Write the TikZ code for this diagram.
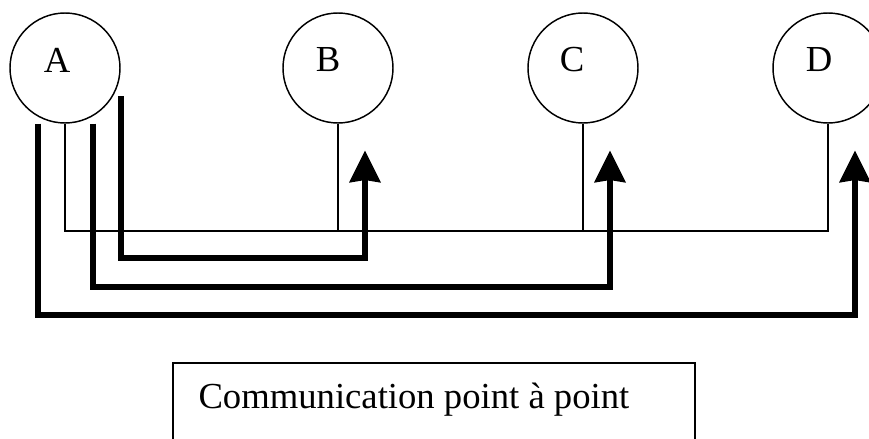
\documentclass[tikz,border=0pt]{standalone}
\usepackage{fontspec}
\setmainfont{Liberation Serif}
\usetikzlibrary{arrows.meta,calc}

\tikzset{every picture/.style={line width=0.75pt}}

\begin{document}
\begin{tikzpicture}[x=0.75pt,y=0.75pt,yscale=-1,xscale=1,
	station/.style={draw,circle,minimum size=82.5pt,inner sep=0pt,line width=1.1pt},
	ligne/.style={line width=1.1pt},
	msg/.style={line width=4.8pt,-{Stealth[length=24pt,width=24pt,inset=2pt,line width=0pt]}},
	lettre/.style={inner sep=0pt,font=\fontsize{27.5}{33}\selectfont},
	cadre/.style={draw,line width=1.8pt,minimum width=391.5pt,minimum height=90pt,inner sep=0pt}]
	%uncomment if require: \path (0,439); %set diagram left start at 0, and has height of 439
	\useasboundingbox (0,0) rectangle (869,439);
	\clip (0,0) rectangle (869,439);
	
	%Stations
	\node[station] (a) at (65,68) {};
	\node[station] (b) at (338,68) {};
	\node[station] (c) at (583,68) {};
	\node[station] (d) at (828,68) {};
	\node[lettre] (la) at ($(a)+(-8,-8)$) {A};
	\node[lettre] (lb) at ($(b)+(-10,-8)$) {B};
	\node[lettre] (lc) at ($(c)+(-11,-8)$) {C};
	\node[lettre] (ld) at ($(d)+(-9,-8)$) {D};
	
	%Bus
	\coordinate (bus) at (0,231);
	\draw[ligne] (a.south) |- (d.south |- bus) -- (d.south);
	\draw[ligne] (b.south) -- (b.south |- bus);
	\draw[ligne] (c.south) -- (c.south |- bus);
	
	%Liaisons point a point
	\coordinate (y1) at (0,258);
	\coordinate (y2) at (0,287);
	\coordinate (y3) at (0,315);
	\coordinate (ab) at ($(a.center)+(56,28)$);
	\coordinate (ac) at ($(a.south)+(28,0)$);
	\coordinate (ad) at ($(a.south)+(-27,0)$);
	\coordinate (pb) at ($(b.south)+(27,27)$);
	\coordinate (pc) at ($(c.south)+(27,27)$);
	\coordinate (pd) at ($(d.south)+(27,27)$);
	\draw[msg] (ab) -- (ab |- y1) -| (pb);
	\draw[msg] (ac) -- (ac |- y2) -| (pc);
	\draw[msg] (ad) -- (ad |- y3) -| (pd);
	
	%Legende
	\node[cadre,anchor=north west] (boite) at (172,362) {};
	\node[lettre,anchor=base west] (titre) at (198,408) {Communication point à point};
	
\end{tikzpicture}
\end{document}
